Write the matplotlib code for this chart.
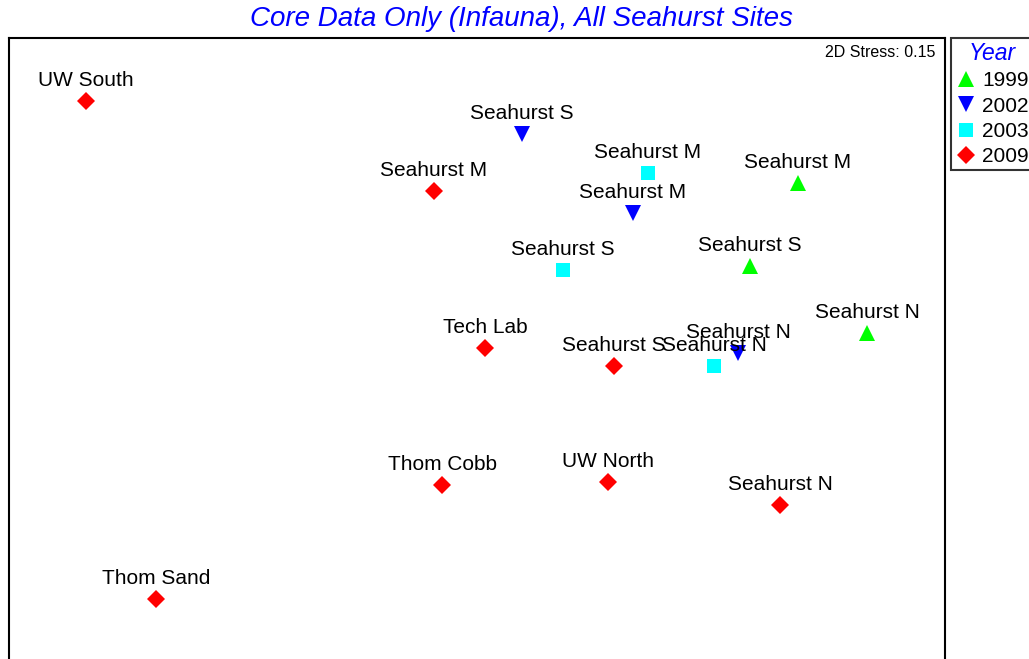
import matplotlib
matplotlib.use("Agg")
import matplotlib.pyplot as plt
from matplotlib.lines import Line2D

plt.rcParams['font.family'] = ['Liberation Sans', 'DejaVu Sans']

years = ['1999', '2002', '2003', '2009']
colors = {'1999': '#00ff00', '2002': '#0000ff', '2003': '#00ffff', '2009': '#ff0000'}
markers = {'1999': '^', '2002': 'v', '2003': 's', '2009': 'D'}
msizes = {'1999': 11, '2002': 11, '2003': 10, '2009': 9}

# MDS coordinates (arbitrary units)
labels_1999 = ['Seahurst M', 'Seahurst S', 'Seahurst N']
x_1999 = [7.89, 7.41, 8.58]
y_1999 = [-1.45, -2.28, -2.95]

labels_2002 = ['Seahurst S', 'Seahurst M', 'Seahurst N']
x_2002 = [5.13, 6.24, 7.29]
y_2002 = [-0.96, -1.75, -3.15]

labels_2003 = ['Seahurst M', 'Seahurst S', 'Seahurst N']
x_2003 = [6.39, 5.54, 7.05]
y_2003 = [-1.35, -2.32, -3.28]

labels_2009 = ['UW South', 'Seahurst M', 'Tech Lab', 'Seahurst S',
               'Thom Cobb', 'UW North', 'Seahurst N', 'Thom Sand']
x_2009 = [0.77, 4.25, 4.76, 6.05, 4.33, 5.99, 7.71, 1.47]
y_2009 = [-0.63, -1.53, -3.10, -3.28, -4.47, -4.44, -4.67, -5.61]

series = {
    '1999': (labels_1999, x_1999, y_1999),
    '2002': (labels_2002, x_2002, y_2002),
    '2003': (labels_2003, x_2003, y_2003),
    '2009': (labels_2009, x_2009, y_2009),
}

W, H = 1029, 659
fig = plt.figure(figsize=(W / 100, H / 100), dpi=100)
left, right, top, bottom = 9, 945, 38, 700
ax = fig.add_axes([left / W, 1 - bottom / H, (right - left) / W, (bottom - top) / H])
ax.set_xlim(0, (right - left) / 100)
ax.set_ylim(-(bottom - top) / 100, 0)
ax.set_xticks([])
ax.set_yticks([])
for s in ax.spines.values():
    s.set_linewidth(1.5)
    s.set_color('black')

handles = []
for yr in years:
    labs, xs, ys = series[yr]
    ax.plot(xs, ys, linestyle='none', marker=markers[yr], color=colors[yr],
            markersize=msizes[yr], markeredgewidth=0, clip_on=False)
    for lab, x, y in zip(labs, xs, ys):
        ax.annotate(lab, (x, y), xytext=(0, 11), textcoords='offset points',
                    ha='center', va='baseline', fontsize=15, color='black')
    handles.append(Line2D([], [], linestyle='none', marker=markers[yr], color=colors[yr],
                          markersize=msizes[yr], markeredgewidth=0, label=yr))

ax.text((935 - left) / (right - left), 1 - (45 - top) / (bottom - top), '2D Stress: 0.15',
        transform=ax.transAxes, ha='right', va='top', fontsize=11.5)

fig.text(521 / W, 1 - 19 / H, 'Core Data Only (Infauna), All Seahurst Sites',
         ha='center', va='center', fontsize=20, style='italic', color='#0000ff')

leg = fig.legend(handles=handles, loc='upper left', bbox_to_anchor=(951 / W, 1 - 38 / H),
                 title='Year', fontsize=15, frameon=True, fancybox=False,
                 edgecolor='black', handlelength=1.0, handletextpad=0.3,
                 borderpad=0.2, labelspacing=0.3, borderaxespad=0)
leg.get_frame().set_linewidth(1.5)
leg.get_title().set_color('#0000ff')
leg.get_title().set_fontstyle('italic')
leg.get_title().set_fontsize(16.5)

fig.savefig('out.png', dpi=100)
